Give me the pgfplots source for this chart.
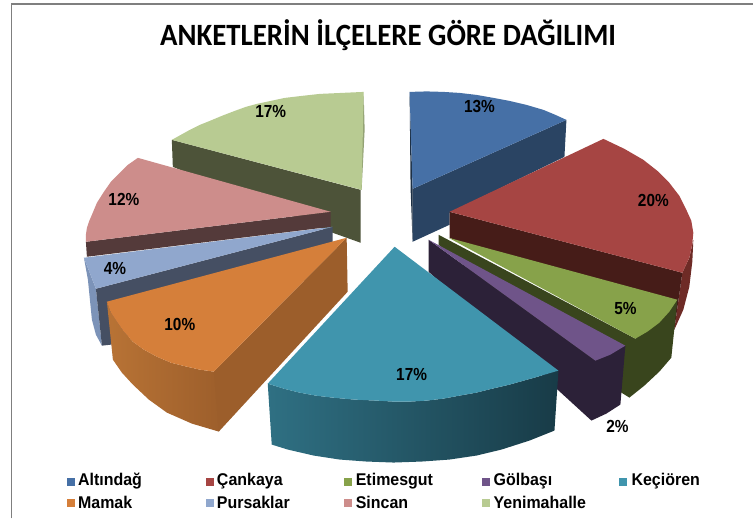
\documentclass[border=0pt]{standalone}
\usepackage{fontspec}
\setmainfont{Liberation Sans}
\newfontfamily\titlefont[FakeStretch=0.93]{Carlito}
\newfontfamily\labfont[FakeStretch=0.88]{Liberation Sans}
\newfontfamily\legfont[FakeStretch=0.94]{Liberation Sans}
\usepackage{pgfplots}
\pgfplotsset{compat=1.18}
\definecolor{bluetop}{HTML}{4670A6}\definecolor{bluewall}{HTML}{2A4463}
\definecolor{redtop}{HTML}{A64543}\definecolor{redwall}{HTML}{461C18}\definecolor{redout}{HTML}{6E2B26}
\definecolor{greentop}{HTML}{87A24A}\definecolor{greenwall}{HTML}{39451D}
\definecolor{purptop}{HTML}{6F5489}\definecolor{purpwall}{HTML}{2C2138}
\definecolor{tealtop}{HTML}{4095AD}\definecolor{teala}{HTML}{2F7083}\definecolor{tealb}{HTML}{183B47}
\definecolor{orantop}{HTML}{D57F3A}\definecolor{oranwall}{HTML}{9C5E2B}\definecolor{orana}{HTML}{B87335}
\definecolor{peritop}{HTML}{90A7CD}\definecolor{periwall}{HTML}{454F63}\definecolor{periout}{HTML}{7C93B8}
\definecolor{pinktop}{HTML}{CD8D8B}\definecolor{pinkwall}{HTML}{543A3A}
\definecolor{lgtop}{HTML}{B8CB92}\definecolor{lgwall}{HTML}{4D5339}
\definecolor{framegray}{HTML}{7F7F7F}
\tikzset{
  lab/.style={font=\labfont\fontsize{17.5}{17.5}\selectfont\bfseries},
  leg/.style={font=\legfont\fontsize{17}{17}\selectfont\bfseries,anchor=west,inner sep=0pt},
}
\begin{document}
\begin{tikzpicture}
\begin{axis}[
  width=754pt,height=519pt,scale only axis,
  xmin=0,xmax=754,ymin=0,ymax=519,y dir=reverse,
  hide axis,clip=false,no markers,
  every axis plot/.append style={draw=none},
]
% full extent of the page
\addplot[draw=none] coordinates {(0,0) (754,519)};
% frame
\addplot[draw=framegray,line width=1.5pt] coordinates {(11.5,519) (11.5,4) (754,4)};
% Yenimahalle
\addplot[fill=lgwall] coordinates {(172,140) (361,190) (361,243) (333,233) (173,167)} -- cycle;
\addplot[fill=lgtop!80!black] coordinates {(364,92) (365,130) (362,190) (361,190)} -- cycle;
\addplot[fill=lgtop] coordinates {(172,140) (181,135) (190,130) (200,125) (210,121) (222,116) (235,111) (246,107) (257,104) (271,101) (285,98) (302,96) (320,94) (342,93) (364,92) (362,190)} -- cycle;
% Altindag
\addplot[fill=bluewall] coordinates {(413,189) (567,120) (565,157) (450,213) (450,225) (413,242)} -- cycle;
\addplot[fill=bluewall!70!black] coordinates {(410,92) (413,189) (413,242) (411,189)} -- cycle;
\addplot[fill=bluetop] coordinates {(410,92) (427,91.5) (444,92) (460,93) (477,95) (494,98) (510,101) (527,105) (544,110) (556,115) (567,120) (413,189)} -- cycle;
% Cankaya
\addplot[fill=redout] coordinates {(683,273) (690,258) (694,240) (693,262) (690,287) (684,310) (675,330)} -- cycle;
\addplot[fill=redwall] coordinates {(450,212) (683,273) (675,330) (450,238)} -- cycle;
\addplot[fill=redtop] coordinates {(450,212) (604,139) (625,149) (644,160) (658,171) (670,183) (680,196) (687,210) (692,221) (694,233) (693,244) (690,258) (683,273)} -- cycle;
% Etimesgut
\addplot[fill=greenwall] coordinates {(439,235) (636,339) (678,300) (672,358) (660,372) (645,386) (630,398) (622,393) (439,245)} -- cycle;
\addplot[fill=greentop] coordinates {(449,238) (678,300) (670,312) (660,323) (648,332) (636,339)} -- cycle;
% Golbasi
\addplot[fill=purpwall] coordinates {(429,240) (596,361) (626,346) (621,405) (607,414) (592,421) (429,272)} -- cycle;
\addplot[fill=purptop] coordinates {(429,240) (626,346) (611,355) (596,361)} -- cycle;
% Pursaklar
\addplot[fill=periout] coordinates {(84,258) (96,289) (102,346) (96,335) (92,320) (88,280)} -- cycle;
\addplot[fill=periwall] coordinates {(96,289) (333,227) (333,245) (111,345) (102,346)} -- cycle;
\addplot[fill=peritop] coordinates {(84,258) (333,227) (96,289)} -- cycle;
% Sincan
\addplot[fill=pinkwall] coordinates {(86,242) (331,212) (331,227) (87,257)} -- cycle;
\addplot[fill=pinktop] coordinates {(138,158) (128,165) (120,173) (111,182) (104,192) (97,203) (92,215) (89,222) (87,228) (86,235) (86,242) (331,212)} -- cycle;
% Mamak
\addplot[left color=orana,right color=oranwall] coordinates {(107,302) (111,313) (117,322) (124,332) (133,342) (144,350) (157,357) (171,363) (187,367) (200,370) (214,372) (225,375) (225,420) (219,432) (192,424) (167,413) (149,400) (133,385) (122,373) (113,360)} -- cycle;
\addplot[fill=oranwall] coordinates {(347,238) (214,372) (219,432) (348,292)} -- cycle;
\addplot[fill=orantop] coordinates {(347,238) (107,302) (111,313) (117,322) (124,332) (133,342) (144,350) (157,357) (171,363) (187,367) (200,370) (214,372)} -- cycle;
% Kecioren
\addplot[left color=teala,right color=tealb] coordinates {(268,384) (284,389) (300,393) (316,396) (333,398) (355,400) (377,401) (394,402) (410,402) (427,401) (444,399) (460,396) (477,393) (493,389) (510,385) (535,378) (559,371) (555,431) (530,441) (502,450) (477,456) (450,460) (422,462) (394,463) (367,462) (340,460) (314,456) (288,450) (272,445)} -- cycle;
\addplot[fill=tealtop] coordinates {(395,247) (268,384) (284,389) (300,393) (316,396) (333,398) (355,400) (377,401) (394,402) (410,402) (427,401) (444,399) (460,396) (477,393) (493,389) (510,385) (535,378) (559,371)} -- cycle;
% percentages
\node[lab] at (axis cs:480,107) {13\%};
\node[lab] at (axis cs:654,201) {20\%};
\node[lab] at (axis cs:626,309) {5\%};
\node[lab] at (axis cs:618,427) {2\%};
\node[lab] at (axis cs:412,375) {17\%};
\node[lab] at (axis cs:180,325) {10\%};
\node[lab] at (axis cs:115,269) {4\%};
\node[lab] at (axis cs:124,200) {12\%};
\node[lab] at (axis cs:271,112) {17\%};
% title
\node[font=\titlefont\fontsize{31}{31}\selectfont\bfseries] at (axis cs:388.5,35) {ANKETLERİN İLÇELERE GÖRE DAĞILIMI};
% legend keys
\addplot[fill=bluetop] coordinates {(67,478) (75,478) (75,486) (67,486)} -- cycle;
\addplot[fill=redtop] coordinates {(206,478) (214,478) (214,486) (206,486)} -- cycle;
\addplot[fill=greentop] coordinates {(344,478) (352,478) (352,486) (344,486)} -- cycle;
\addplot[fill=purptop] coordinates {(482,478) (490,478) (490,486) (482,486)} -- cycle;
\addplot[fill=tealtop] coordinates {(620,478) (628,478) (628,486) (620,486)} -- cycle;
\addplot[fill=orantop] coordinates {(67,499) (75,499) (75,507) (67,507)} -- cycle;
\addplot[fill=peritop] coordinates {(206,499) (214,499) (214,507) (206,507)} -- cycle;
\addplot[fill=pinktop] coordinates {(344,499) (352,499) (352,507) (344,507)} -- cycle;
\addplot[fill=lgtop] coordinates {(482,499) (490,499) (490,507) (482,507)} -- cycle;
\node[leg] at (axis cs:78,482) {Altındağ};
\node[leg] at (axis cs:217,482) {Çankaya};
\node[leg] at (axis cs:356,482) {Etimesgut};
\node[leg] at (axis cs:494,482) {Gölbaşı};
\node[leg] at (axis cs:632,482) {Keçiören};
\node[leg] at (axis cs:78,503) {Mamak};
\node[leg] at (axis cs:217,503) {Pursaklar};
\node[leg] at (axis cs:356,503) {Sincan};
\node[leg] at (axis cs:494,503) {Yenimahalle};
\end{axis}
\end{tikzpicture}
\end{document}
